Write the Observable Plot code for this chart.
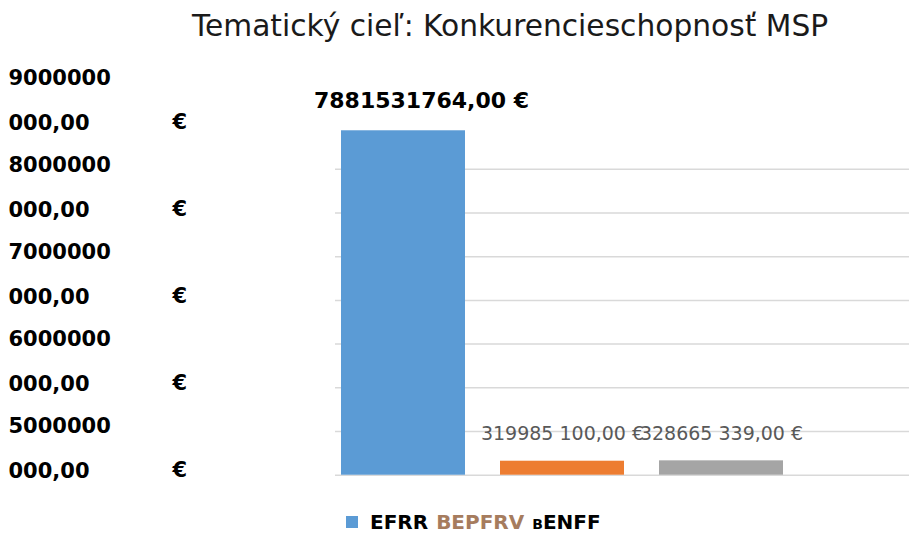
<!DOCTYPE html>
<html><head><meta charset="utf-8">
<script src="https://cdn.jsdelivr.net/npm/d3@7"></script>
<script src="https://cdn.jsdelivr.net/npm/@observablehq/plot@0.6"></script>
<style>
body{margin:0;background:#fff;width:909px;height:533px;position:relative;overflow:hidden;font-family:"DejaVu Sans",sans-serif}
#title{position:absolute;left:110px;width:800px;top:8px;text-align:center;font-size:29.7px;color:#1a1a1a;white-space:nowrap}
#chart,#yaxis{position:absolute;left:0;top:0}
#legend{position:absolute;left:346px;top:510px;display:flex;align-items:center;font-weight:bold;font-size:20px;white-space:nowrap}
#legend .sw{width:12px;height:12px;margin-right:12px}
</style></head>
<body>
<div id="title"></div>
<div id="chart"></div>
<div id="yaxis"></div>
<div id="legend"></div>
<script>
const title = "Tematický cieľ: Konkurencieschopnosť MSP";
const funds = ["EFRR", "BEPFRV", "ENFF"];
const amounts = [7881531764, 319985100, 328665339];
const valueLabels = ["7881531764,00 €", "319985 100,00 €", "328665 339,00 €"];
const colors = ["#5B9BD5", "#ED7D31", "#A5A5A5"];
const gridValues = [0, 1e9, 2e9, 3e9, 4e9, 5e9, 6e9, 7e9];
const axisLabelTop = ["9000000", "8000000", "7000000", "6000000", "5000000"];
const axisLabelBottom = ["000,00", "000,00", "000,00", "000,00", "000,00"];
const axisUnit = "€";
const legendParts = [
  {text: "EFRR", color: "#000", small: ""},
  {text: "BEPFRV", color: "#A67C5E", small: ""},
  {text: "ENFF", color: "#000", small: "B"}
];

document.getElementById("title").textContent = title;

const data = funds.map((f, i) => ({fund: f, amount: amounts[i], label: valueLabels[i]}));

const chart = Plot.plot({
  width: 909, height: 533,
  marginLeft: 335, marginRight: 0, marginTop: 0, marginBottom: 0,
  x: {type: "band", domain: funds, range: [340, 783.5], paddingInner: 0.219, paddingOuter: 0, axis: null},
  y: {domain: [0, 8e9], range: [474.7, 125.1], axis: null},
  color: {domain: funds, range: colors},
  marks: [
    Plot.ruleY(gridValues, {stroke: "#d9d9d9", strokeWidth: 1.5}),
    Plot.barY(data, {x: "fund", y: "amount", fill: "fund"}),
    Plot.text(data.filter(d => d.fund === "EFRR"), {x: "fund", y: "amount", text: "label", dy: -30, dx: 18,
      fill: "#000", fontWeight: "bold", fontSize: 22, fontFamily: "DejaVu Sans"}),
    Plot.text(data.filter(d => d.fund !== "EFRR"), {x: "fund", y: "amount", text: "label", dy: -27,
      fill: "#595959", fontSize: 19, fontFamily: "DejaVu Sans"})
  ]
});
document.getElementById("chart").appendChild(chart);

const axisData = axisLabelTop.map((t, i) => ({key: t + "|" + i, top: t, bottom: axisLabelBottom[i]}));
const yaxis = Plot.plot({
  width: 200, height: 533,
  margin: 0,
  x: {axis: null},
  y: {type: "point", domain: axisData.map(d => d.key), range: [98.5, 447.5], padding: 0, axis: null},
  marks: [
    Plot.text(axisData, {y: "key", text: d => d.top + "\n" + d.bottom, frameAnchor: "left", dx: 8, dy: -6,
      textAnchor: "start", lineHeight: 2.14, fontWeight: "bold", fontSize: 21, fill: "#000", fontFamily: "DejaVu Sans"}),
    Plot.text(axisData, {y: "key", text: () => axisUnit, frameAnchor: "left", dx: 172, dy: 22.5,
      textAnchor: "start", fontWeight: "bold", fontSize: 21, fill: "#000", fontFamily: "DejaVu Sans"})
  ]
});
document.getElementById("yaxis").appendChild(yaxis);

const legend = document.getElementById("legend");
const sw = document.createElement("div");
sw.className = "sw"; sw.style.background = colors[0];
legend.appendChild(sw);
legendParts.forEach((p, i) => {
  const span = document.createElement("span");
  span.style.color = p.color;
  span.style.marginRight = "8px";
  if (p.small) {
    const s = document.createElement("span");
    s.textContent = p.small; s.style.fontSize = "14px";
    span.appendChild(s);
  }
  span.appendChild(document.createTextNode(p.text));
  legend.appendChild(span);
});
</script>
</body></html>
